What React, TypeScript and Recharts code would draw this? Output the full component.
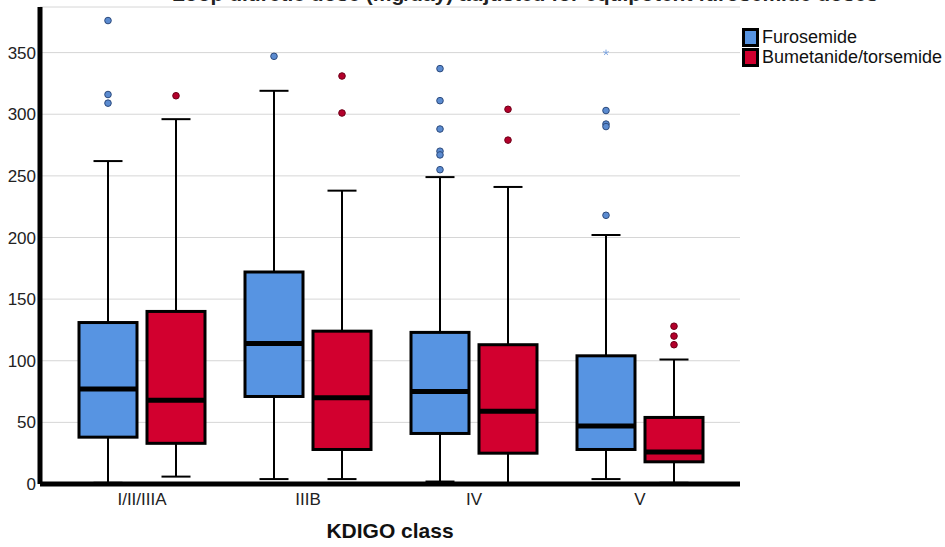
import React from "react"
import { ComposedChart, Bar, XAxis, YAxis, CartesianGrid, Label } from "recharts"

const categories = ["I/II/IIIA", "IIIB", "IV", "V"]

// Furosemide
const furoLow = [1, 4, 2, 4]
const furoQ1 = [38, 71, 41, 28]
const furoMedian = [77, 114, 75, 47]
const furoQ3 = [131, 172, 123, 104]
const furoHigh = [262, 319, 249, 202]
const furoOutliers = [[376, 316, 309], [347], [337, 311, 288, 270, 267, 255], [303, 292, 290, 218]]
const furoExtremes = [[], [], [], [350]]

// Bumetanide/torsemide
const bumeLow = [6, 4, 0.5, 1]
const bumeQ1 = [33, 28, 25, 18]
const bumeMedian = [68, 70, 59, 26]
const bumeQ3 = [140, 124, 113, 54]
const bumeHigh = [296, 238, 241, 101]
const bumeOutliers = [[315], [331, 301], [304, 279], [128, 120, 113]]
const bumeExtremes = [[], [], [], []]

const yTicks = [0, 50, 100, 150, 200, 250, 300, 350]

interface Series {
  key: string
  name: string
  low: number[]
  q1: number[]
  median: number[]
  q3: number[]
  high: number[]
  outliers: number[][]
  extremes: number[][]
  fill: string
  dot: string
  dotStroke: string
}

const FURO: Series = {
  key: "furo", name: "Furosemide",
  low: furoLow, q1: furoQ1, median: furoMedian, q3: furoQ3, high: furoHigh,
  outliers: furoOutliers, extremes: furoExtremes,
  fill: "#5794e2", dot: "#5b8bd0", dotStroke: "#2c4a7c",
}

const BUME: Series = {
  key: "bume", name: "Bumetanide/torsemide",
  low: bumeLow, q1: bumeQ1, median: bumeMedian, q3: bumeQ3, high: bumeHigh,
  outliers: bumeOutliers, extremes: bumeExtremes,
  fill: "#d2002f", dot: "#b3002b", dotStroke: "#6e0018",
}

// full extent of a box (whiskers + outliers), used as the bar's range value
const rangeOf = (s: Series, i: number): [number, number] => {
  const all = [s.low[i], s.high[i], ...s.outliers[i], ...s.extremes[i]]
  return [Math.min(...all), Math.max(...all)]
}

const data = categories.map((cat, i) => ({
  cat,
  furo: rangeOf(FURO, i),
  bume: rangeOf(BUME, i),
}))

const makeBoxShape = (s: Series) => (props: any) => {
  const { x, y, width, height, index } = props
  const [lo, hi] = rangeOf(s, index)
  const top = Math.min(y, y + height)
  const bottom = Math.max(y, y + height)
  const py = (v: number) => (hi === lo ? bottom : bottom - ((v - lo) / (hi - lo)) * (bottom - top))
  const cx = x + width / 2
  const capW = width / 2

  const yHigh = py(s.high[index])
  const yLow = py(s.low[index])
  const yQ3 = py(s.q3[index])
  const yQ1 = py(s.q1[index])
  const yMed = py(s.median[index])

  return (
    <g>
      {/* whiskers */}
      <line x1={cx} x2={cx} y1={yHigh} y2={yQ3} stroke="#000" strokeWidth={2} />
      <line x1={cx} x2={cx} y1={yQ1} y2={yLow} stroke="#000" strokeWidth={2} />
      <line x1={cx - capW / 2} x2={cx + capW / 2} y1={yHigh} y2={yHigh} stroke="#000" strokeWidth={2} />
      <line x1={cx - capW / 2} x2={cx + capW / 2} y1={yLow} y2={yLow} stroke="#000" strokeWidth={2} />
      {/* box */}
      <rect x={x} y={yQ3} width={width} height={yQ1 - yQ3} fill={s.fill} stroke="#000" strokeWidth={3} />
      <line x1={x} x2={x + width} y1={yMed} y2={yMed} stroke="#000" strokeWidth={5} />
      {/* outliers */}
      {s.outliers[index].map((v, k) => (
        <circle key={k} cx={cx} cy={py(v)} r={3.3} fill={s.dot} stroke={s.dotStroke} strokeWidth={1} />
      ))}
      {/* extremes */}
      {s.extremes[index].map((v, k) => {
        const cy = py(v)
        return (
          <g key={"e" + k} stroke="#7fa6e0" strokeWidth={1}>
            {[0, 72, 144, 216, 288].map((a) => {
              const r = (a - 90) * Math.PI / 180
              return <line key={a} x1={cx} y1={cy} x2={cx + 3 * Math.cos(r)} y2={cy + 3 * Math.sin(r)} />
            })}
          </g>
        )
      })}
    </g>
  )
}

const FuroShape = makeBoxShape(FURO)
const BumeShape = makeBoxShape(BUME)

const FONT = "'Liberation Sans', Arial, sans-serif"

export default function App() {
  return (
    <div style={{ position: "absolute", left: 0, top: 0, width: 945, height: 547, background: "#fff", fontFamily: FONT }}>
      {/* title, mostly cropped off the top in the reference */}
      <svg width={945} height={20} style={{ position: "absolute", left: 0, top: 0 }}>
        <text x={525} y={1} textAnchor="middle" fontSize={21} fontWeight="bold" fill="#222" fontFamily={FONT}>
          Loop diuretic dose (mg/day) adjusted for equipotent furosemide doses
        </text>
      </svg>

      <ComposedChart
        width={945}
        height={547}
        data={data}
        margin={{ top: 7, right: 205, bottom: 0, left: 0 }}
        barSize={58}
        barGap={10}
      >
        <CartesianGrid vertical={false} stroke="#d6d6d6" strokeWidth={1} />
        <XAxis
          dataKey="cat"
          height={63}
          padding={{ left: 19, right: 17 }}
          axisLine={{ stroke: "#000", strokeWidth: 5 }}
          tickLine={false}
          tickSize={0}
          tickMargin={9}
          tick={{ fontSize: 17, fill: "#222" }}
          interval={0}
        >
          <Label value="KDIGO class" position="insideBottom" offset={9} style={{ fontSize: 21, fontWeight: "bold", fill: "#111" }} />
        </XAxis>
        <YAxis
          type="number"
          domain={[0, 387]}
          ticks={yTicks}
          width={40}
          axisLine={{ stroke: "#000", strokeWidth: 5 }}
          tickLine={false}
          tickSize={0}
          tickMargin={4}
          tick={{ fontSize: 17, fill: "#222" }}
          interval={0}
        />
        <Bar dataKey="furo" name="Furosemide" shape={FuroShape} isAnimationActive={false} />
        <Bar dataKey="bume" name="Bumetanide/torsemide" shape={BumeShape} isAnimationActive={false} />
      </ComposedChart>

      {/* legend */}
      <div style={{ position: "absolute", left: 742, top: 27, fontSize: 18, color: "#111", lineHeight: "20px" }}>
        {[FURO, BUME].map((s) => (
          <div key={s.key} style={{ display: "flex", alignItems: "center", height: 20 }}>
            <span style={{ width: 17, height: 19, boxSizing: "border-box", border: "3px solid #000", background: s.fill, marginRight: 3 }} />
            <span>{s.name}</span>
          </div>
        ))}
      </div>
    </div>
  )
}
